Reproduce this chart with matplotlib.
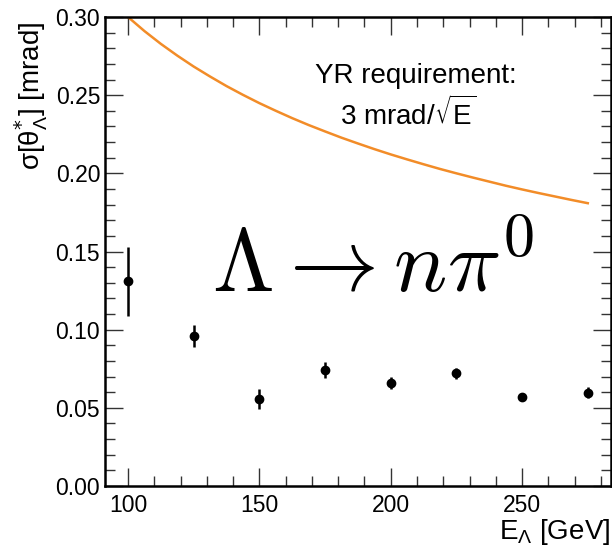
import matplotlib
matplotlib.use('Agg')
import matplotlib.pyplot as plt
from matplotlib.ticker import MultipleLocator

# measured resolution per energy point
energy = [100, 125, 150, 175, 200, 225, 250, 275]
sigma = [0.131, 0.096, 0.0556, 0.0742, 0.0659, 0.072, 0.0567, 0.0597]
sigma_err = [0.022, 0.0072, 0.0063, 0.0053, 0.004, 0.0035, 0.002, 0.0035]

# YR requirement curve
yr_energy = [100, 106.25, 112.5, 118.75, 125, 131.25, 137.5, 143.75, 150, 156.25, 162.5,
             168.75, 175, 181.25, 187.5, 193.75, 200, 206.25, 212.5, 218.75, 225,
             231.25, 237.5, 243.75, 250, 256.25, 262.5, 268.75, 275]
yr_sigma = [0.3000, 0.2910, 0.2828, 0.2753, 0.2683, 0.2619, 0.2558, 0.2502, 0.2449, 0.2400, 0.2353,
            0.2309, 0.2268, 0.2228, 0.2191, 0.2155, 0.2121, 0.2089, 0.2058, 0.2028, 0.2000,
            0.1973, 0.1947, 0.1921, 0.1897, 0.1874, 0.1852, 0.1830, 0.1809]

plt.rcParams['font.family'] = ['Liberation Sans', 'DejaVu Sans']

fig = plt.figure(figsize=(6.12, 5.48), dpi=100)
ax = fig.add_axes([0.1716, 0.1131, 0.8264, 0.8559])

ax.plot(yr_energy, yr_sigma, color='#f28c28', linewidth=1.8)
ax.errorbar(energy, sigma, yerr=sigma_err, fmt='o', color='black',
            markersize=6, elinewidth=1.8, capsize=0)

ax.set_xlim(91.25, 283.75)
ax.set_ylim(0.0, 0.30)
ax.xaxis.set_major_locator(MultipleLocator(50))
ax.xaxis.set_minor_locator(MultipleLocator(10))
ax.yaxis.set_major_locator(MultipleLocator(0.05))
ax.yaxis.set_minor_locator(MultipleLocator(0.01))
ax.yaxis.set_major_formatter(plt.FormatStrFormatter('%.2f'))
ax.tick_params(which='both', direction='in', top=True, right=True, labelsize=16.5, color='#333333')
ax.tick_params(which='major', length=13, width=1)
ax.tick_params(which='minor', length=7, width=1)
ax.tick_params(axis='x', pad=6)
for s in ax.spines.values():
    s.set_linewidth(1.8)

ax.text(0.615, 0.875, 'YR requirement:', transform=ax.transAxes, fontsize=20, ha='center', va='center')
ax.text(0.60, 0.795, r'3 mrad/$\sqrt{\mathregular{E}}$', transform=ax.transAxes, fontsize=20,
        ha='center', va='center')
ax.text(0.212, 0.414, r'$\Lambda \rightarrow n\pi^0$', transform=ax.transAxes, fontsize=64,
        ha='left', va='baseline', math_fontfamily='cm')

fig.text(31 / 612, 1 - 22 / 548, r'σ[θ$^{*}_{\mathregular{Λ}}$] [mrad]', rotation=90,
         fontsize=20, ha='center', va='top')
fig.text(610 / 612, 1 - 532 / 548, r'E$_{\mathregular{Λ}}$ [GeV]', fontsize=20, ha='right', va='center')

fig.savefig('out.png', dpi=100)
